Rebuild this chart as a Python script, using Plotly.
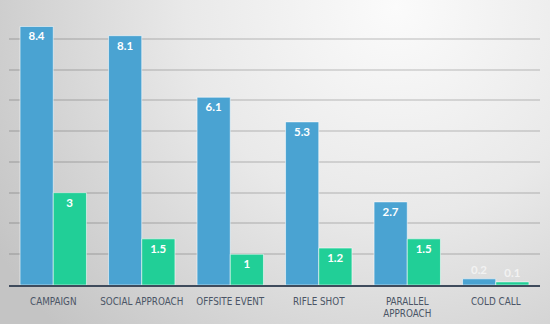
import base64
import plotly.graph_objects as go

# Chart data
categories = ["CAMPAIGN", "SOCIAL APPROACH", "OFFSITE EVENT", "RIFLE SHOT",
              "PARALLEL<br>APPROACH", "COLD CALL"]
series_a = [8.4, 8.1, 6.1, 5.3, 2.7, 0.2]
series_b = [3, 1.5, 1, 1.2, 1.5, 0.1]

W, H = 550, 324
ML, MR, MT, MB = 9, 10, 8, 39
pw, ph = W - ML - MR, H - MT - MB

# Soft radial background for the whole canvas
svg = f"""<svg xmlns='http://www.w3.org/2000/svg' width='{W}' height='{H}'>
<defs><radialGradient id='g' gradientUnits='userSpaceOnUse' cx='{W*0.72}' cy='{H*0.02}' r='{W*0.85}'>
<stop offset='0' stop-color='#fbfbfb'/>
<stop offset='0.45' stop-color='#e9e9e9'/>
<stop offset='1' stop-color='#c4c4c4'/>
</radialGradient></defs>
<rect width='{W}' height='{H}' fill='url(#g)'/></svg>"""
bg_src = "data:image/svg+xml;base64," + base64.b64encode(svg.encode()).decode()

label_font = dict(family="Lato, Open Sans, sans-serif", size=11.5, color="white")

fig = go.Figure()
for vals, color in ((series_a, "#4aa3d2"), (series_b, "#21cf97")):
    fig.add_bar(x=categories, y=vals, marker_color=color,
                marker_line=dict(color="rgba(255,255,255,0.55)", width=1),
                text=[str(v) for v in vals], textposition="auto",
                insidetextanchor="end", textangle=0,
                insidetextfont=dict(label_font, weight="bold"),
                outsidetextfont=dict(label_font, color="#f2f2f2", weight="bold"),
                cliponaxis=False)

fig.update_layout(
    width=W, height=H,
    margin=dict(l=ML, r=MR, t=MT, b=MB, autoexpand=False),
    paper_bgcolor="#e4e4e4", plot_bgcolor="rgba(0,0,0,0)",
    barmode="group", bargap=0.25, bargroupgap=0,
    showlegend=False,
    images=[dict(source=bg_src, xref="paper", yref="paper",
                 x=-ML / pw, y=1 + MT / ph, sizex=W / pw, sizey=H / ph,
                 xanchor="left", yanchor="top", sizing="stretch", layer="below")],
)
fig.update_xaxes(showgrid=False, showline=True, linecolor="#3f4b5c", linewidth=1.5,
                 ticks="", ticklabelstandoff=6, tickangle=0, automargin=False,
                 tickfont=dict(family="Liberation Sans Narrow, DejaVu Sans Condensed, sans-serif",
                               size=9.8, color="#4b5566"))
fig.update_yaxes(range=[0, 9], dtick=1, showticklabels=False, zeroline=False,
                 showgrid=True, gridcolor="rgba(0,0,0,0.12)", gridwidth=2)

fig.write_html("out.html")
